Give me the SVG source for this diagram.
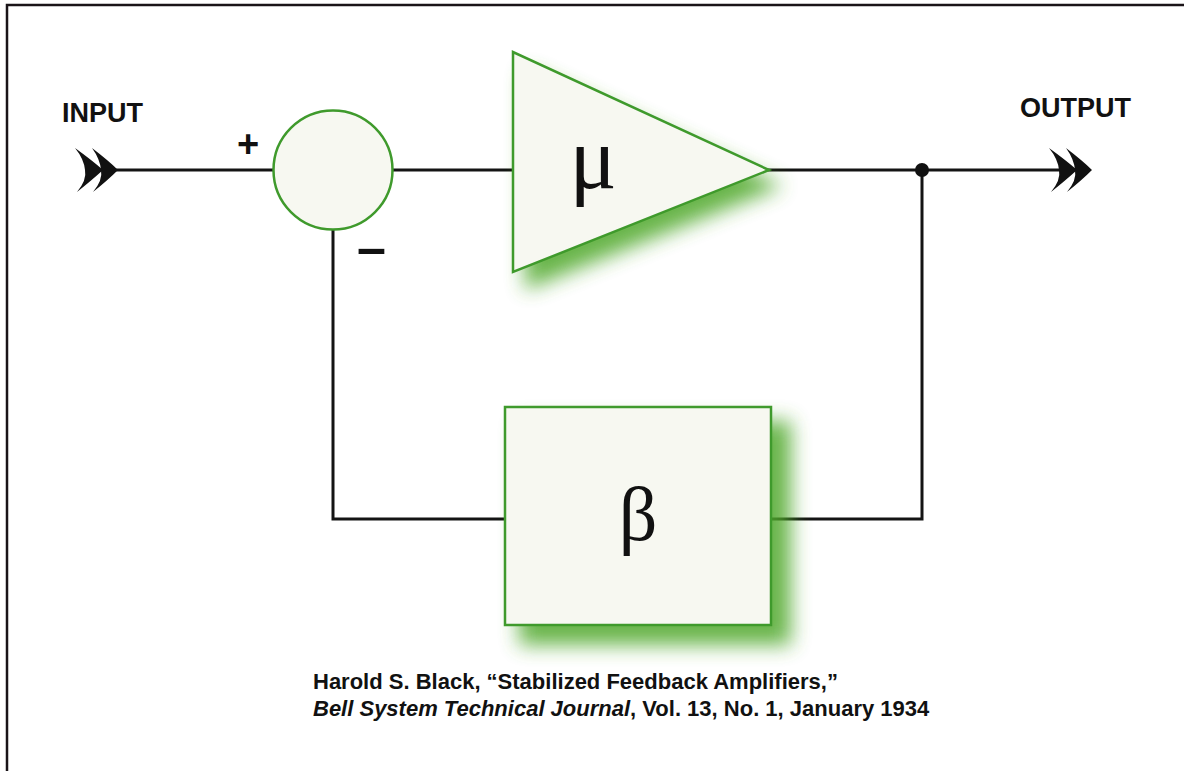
<svg xmlns="http://www.w3.org/2000/svg" width="1184" height="771" viewBox="0 0 1184 771">
  <style>
    .wire { fill: none; stroke: #141414; stroke-width: 3; stroke-linecap: square; }
    .block { fill: #f7f8f1; stroke: #3f9a2c; stroke-width: 2.5; }
    .glow { fill: #4fa82a; }
    .label { font-family: "Liberation Sans", Arial, sans-serif; font-weight: bold; fill: #111; }
    .greek { font-family: "Liberation Serif", "Times New Roman", serif; fill: #111; }
    .chev { fill: #111; }
  </style>
  <defs>
    <filter id="soft" x="-30%" y="-30%" width="160%" height="160%">
      <feGaussianBlur stdDeviation="10"/>
    </filter>
    <!-- double chevron terminal, tip at origin -->
    <g id="chevrons">
      <path class="chev" d="M -43,-22 Q -25,-9 -15,0 Q -26,10 -41,22 Q -31,10 -33,0 Q -34,-11 -43,-22 Z"/>
      <path class="chev" d="M -26,-22 Q -9,-9 0,0 Q -10,10 -25,22 Q -15,10 -17,0 Q -18,-11 -26,-22 Z"/>
    </g>
  </defs>

  <rect width="1184" height="771" fill="#ffffff"/>
  <!-- frame (top and left edges) -->
  <path d="M 7,771 L 7,5 L 1184,5" fill="none" stroke="#1a1418" stroke-width="2.5"/>

  <!-- connectors -->
  <g id="connectors">
    <line class="wire" x1="112" y1="170" x2="273" y2="170"/>
    <line class="wire" x1="392" y1="170" x2="513" y2="170"/>
    <line class="wire" x1="769" y1="170" x2="1074" y2="170"/>
    <polyline class="wire" points="333,230 333,519 505,519"/>
    <polyline class="wire" points="771,519 922,519 922,170"/>
    <circle cx="922" cy="170" r="7" fill="#111"/>
  </g>

  <g id="input">
    <use href="#chevrons" x="118" y="170"/>
    <text class="label" x="62" y="122" font-size="27">INPUT</text>
  </g>

  <g id="output">
    <use href="#chevrons" x="1092" y="170"/>
    <text class="label" x="1020" y="117" font-size="27">OUTPUT</text>
  </g>

  <g id="summer">
    <circle class="block" cx="333" cy="170" r="59.5"/>
    <text class="label" x="248" y="157" font-size="38" text-anchor="middle">+</text>
    <text class="label" x="357" y="265" font-size="52">–</text>
  </g>

  <g id="amplifier">
    <polygon class="glow" points="525,70 525,290 783,186" filter="url(#soft)" opacity="0.85"/>
    <polygon class="block" points="513,52 513,272 769,170"/>
    <text class="greek" x="593" y="188" font-size="88" text-anchor="middle">μ</text>
  </g>

  <g id="feedback">
    <rect class="glow" x="519" y="421" width="272" height="224" filter="url(#soft)" opacity="0.85"/>
    <rect class="block" x="505" y="407" width="266" height="218"/>
    <text class="greek" x="638" y="540" font-size="76" text-anchor="middle">β</text>
  </g>

  <g id="citation">
    <text class="label" x="313" y="689" font-size="22">Harold S. Black, “Stabilized Feedback Amplifiers,”</text>
    <text class="label" x="313" y="716" font-size="22"><tspan font-style="italic">Bell System Technical Journal</tspan>, Vol. 13, No. 1, January 1934</text>
  </g>
</svg>
